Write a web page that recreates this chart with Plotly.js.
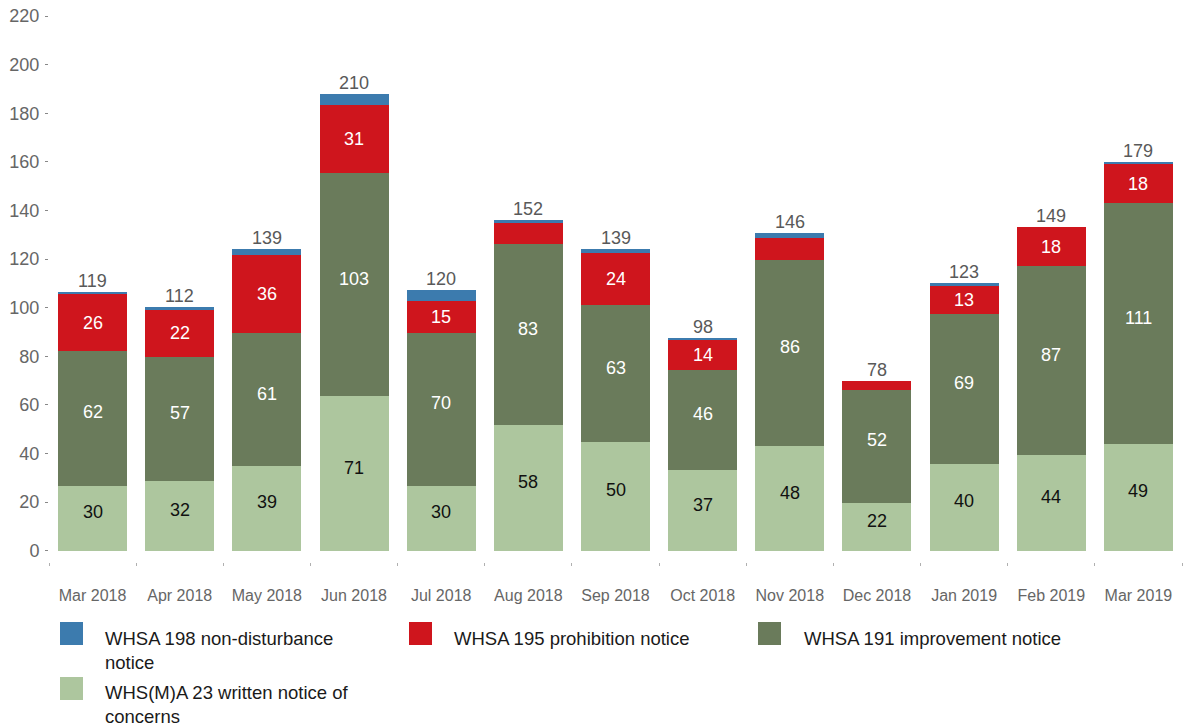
<!DOCTYPE html>
<html>
<head>
<meta charset="utf-8">
<script src="https://cdn.plot.ly/plotly-3.0.1.min.js"></script>
<style>
  html, body { margin: 0; padding: 0; background: #fff; }
  #chart { width: 1183px; height: 726px; }
</style>
</head>
<body>
<div id="chart"></div>
<script>
// ---- data ----
const months = ['Mar 2018', 'Apr 2018', 'May 2018', 'Jun 2018', 'Jul 2018', 'Aug 2018', 'Sep 2018',
                'Oct 2018', 'Nov 2018', 'Dec 2018', 'Jan 2019', 'Feb 2019', 'Mar 2019'];
const writtenConcerns = [30, 32, 39, 71, 30, 58, 50, 37, 48, 22, 40, 44, 49];
const improvement     = [62, 57, 61, 103, 70, 83, 63, 46, 86, 52, 69, 87, 111];
const prohibition     = [26, 22, 36, 31, 15, 10, 24, 14, 10, 4, 13, 18, 18];
const nonDisturbance  = [1, 1, 3, 5, 5, 1, 2, 1, 2, 0, 1, 0, 1];
const totals          = [119, 112, 139, 210, 120, 152, 139, 98, 146, 78, 123, 149, 179];
const prohibitionLabelShown = [true, true, true, true, true, false, true, true, false, false, true, true, true];
const yTickLabels = [0, 20, 40, 60, 80, 100, 120, 140, 160, 180, 200, 220];

const seriesNames = [
  'WHS(M)A 23 written notice of concerns',
  'WHSA 191 improvement notice',
  'WHSA 195 prohibition notice',
  'WHSA 198 non-disturbance notice'
];
const colors = ['#adc69e', '#6a7b5b', '#cf151d', '#3c7bae'];

// The printed axis in the reference runs at ~0.894 of the labelled values.
const AXIS_SCALE = 0.894;

const FONT = '"Liberation Sans", Arial, Helvetica, sans-serif';

const seriesValues = [writtenConcerns, improvement, prohibition, nonDisturbance];

const traces = seriesValues.map((vals, s) => ({
  type: 'bar',
  x: months,
  y: vals,
  name: seriesNames[s],
  marker: { color: colors[s], line: { width: 0 } },
  hoverinfo: 'x+y+name',
  showlegend: false
}));

const annotations = [];

// Segment labels
const labelColors = ['#111111', '#ffffff', '#ffffff'];
const labelShift = [6, 6, 0];
for (let s = 0; s < 3; s++) {
  for (let i = 0; i < months.length; i++) {
    if (s === 2 && !prohibitionLabelShown[i]) continue;
    let base = 0;
    for (let k = 0; k < s; k++) base += seriesValues[k][i];
    const v = seriesValues[s][i];
    annotations.push({
      x: months[i], y: base + v / 2, xref: 'x', yref: 'y',
      text: String(v), showarrow: false,
      xanchor: 'center', yanchor: 'middle', yshift: labelShift[s],
      font: { family: FONT, size: 18, color: labelColors[s] }
    });
  }
}

// Totals above bars
for (let i = 0; i < months.length; i++) {
  annotations.push({
    x: months[i], y: totals[i], xref: 'x', yref: 'y',
    text: String(totals[i]), showarrow: false,
    xanchor: 'center', yanchor: 'bottom', yshift: -1,
    font: { family: FONT, size: 18, color: '#595959' }
  });
}

// ---- custom legend (positions in pixels converted to paper) ----
const M = { l: 49, r: 1, t: 11, b: 164 };
const W = 1183, H = 726;
const plotW = W - M.l - M.r, plotH = H - M.t - M.b;
const px = x => (x - M.l) / plotW;
const py = y => (H - M.b - y) / plotH;

const legendItems = [
  { s: 3, text: 'WHSA 198 non-disturbance<br>notice', bx: 60, by: 622, tx: 104, ty: 650 },
  { s: 2, text: 'WHSA 195 prohibition notice', bx: 409, by: 622, tx: 453, ty: 638.5 },
  { s: 1, text: 'WHSA 191 improvement notice', bx: 758, by: 622, tx: 803, ty: 638.5 },
  { s: 0, text: 'WHS(M)A 23 written notice of<br>concerns', bx: 60, by: 677, tx: 104, ty: 704.5 }
];
const shapes = [];
legendItems.forEach(it => {
  shapes.push({
    type: 'rect', xref: 'paper', yref: 'paper',
    x0: px(it.bx), x1: px(it.bx + 23), y0: py(it.by), y1: py(it.by + 23),
    fillcolor: colors[it.s], line: { width: 0 }
  });
  annotations.push({
    xref: 'paper', yref: 'paper', x: px(it.tx), y: py(it.ty),
    xanchor: 'left', yanchor: 'middle', align: 'left', borderpad: 0,
    text: it.text, showarrow: false,
    font: { family: FONT, size: 18.5, color: '#1a1a1a' }
  });
});

const layout = {
  width: W, height: H,
  margin: M,
  paper_bgcolor: '#ffffff', plot_bgcolor: '#ffffff',
  barmode: 'stack',
  bargap: 0.208,
  showlegend: false,
  font: { family: FONT },
  xaxis: {
    type: 'category',
    showgrid: false, zeroline: false, showline: false,
    ticks: 'outside', tickson: 'boundaries', ticklen: 3, tickwidth: 1, tickcolor: '#b0b0b0',
    ticklabelstandoff: 22,
    tickfont: { family: FONT, size: 16, color: '#666666' },
    fixedrange: true
  },
  yaxis: {
    range: [-5.2, 248.4],
    tickvals: yTickLabels.map(v => v / AXIS_SCALE),
    ticktext: yTickLabels.map(v => String(v)),
    showgrid: false, zeroline: false, showline: false,
    ticks: 'outside', ticklen: 3, tickwidth: 1, tickcolor: '#888888',
    ticklabelstandoff: 2,
    tickfont: { family: FONT, size: 18, color: '#666666' },
    fixedrange: true
  },
  annotations: annotations,
  shapes: shapes
};

Plotly.newPlot('chart', traces, layout, { displayModeBar: false, staticPlot: true });
</script>
</body>
</html>
